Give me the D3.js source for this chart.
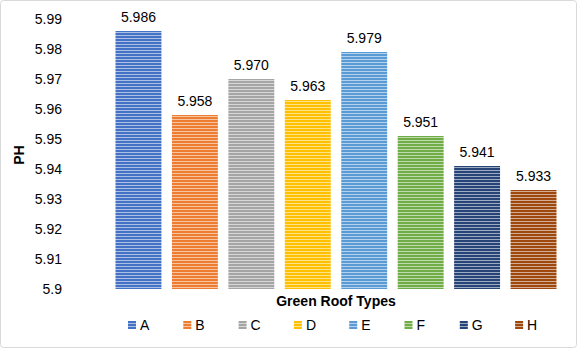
<!DOCTYPE html>
<html>
<head>
<meta charset="utf-8">
<script src="https://cdn.jsdelivr.net/npm/d3@7"></script>
<style>
  body { margin: 0; background: #fff; }
  text { font-family: "Liberation Sans", Arial, sans-serif; fill: #000; }
</style>
</head>
<body>
<script>
// chart data
const categories = ['A', 'B', 'C', 'D', 'E', 'F', 'G', 'H'];
const phValues = [5.986, 5.958, 5.970, 5.963, 5.979, 5.951, 5.941, 5.933];
const tickValues = [5.9, 5.91, 5.92, 5.93, 5.94, 5.95, 5.96, 5.97, 5.98, 5.99];
const tickLabels = ['5.9', '5.91', '5.92', '5.93', '5.94', '5.95', '5.96', '5.97', '5.98', '5.99'];
const colors = ['#4472C4', '#ED7D31', '#A5A5A5', '#FFC000', '#5B9BD5', '#70AD47', '#264478', '#9E480E'];

const W = 577, H = 348;

const svg = d3.select('body').append('svg')
  .attr('width', W)
  .attr('height', H);

// outer frame
svg.append('rect')
  .attr('x', 0.5).attr('y', 0.5)
  .attr('width', W - 1).attr('height', H - 1)
  .attr('rx', 3)
  .attr('fill', '#fff')
  .attr('stroke', '#d9d9d9');

// striped fills, one per series colour
const defs = svg.append('defs');
colors.forEach((c, i) => {
  const p = defs.append('pattern')
    .attr('id', 'stripe' + i)
    .attr('patternUnits', 'userSpaceOnUse')
    .attr('width', 8).attr('height', 3);
  p.append('rect').attr('width', 8).attr('height', 3).attr('fill', c);
  p.append('rect').attr('y', 2).attr('width', 8).attr('height', 1)
    .attr('fill', d3.interpolateRgb(c, '#fff')(0.55));
});

const x = d3.scaleBand()
  .domain(categories)
  .range([105, 567])
  .padding(0.186);

const y = d3.scaleLinear()
  .domain([5.9, 5.99])
  .range([289, 19]);

// y axis labels
const yAxis = d3.axisLeft(y)
  .tickValues(tickValues)
  .tickFormat((d, i) => tickLabels[i])
  .tickSize(0)
  .tickPadding(0);

svg.append('g')
  .attr('transform', 'translate(62,0)')
  .call(yAxis)
  .call(g => g.select('.domain').remove())
  .call(g => g.selectAll('text')
    .attr('font-size', 14)
    .style('font-family', '"Liberation Sans", Arial, sans-serif')
    .attr('fill', '#000'));

// bars
svg.selectAll('.bar')
  .data(phValues)
  .enter().append('rect')
  .attr('class', 'bar')
  .attr('x', (d, i) => x(categories[i]))
  .attr('width', x.bandwidth())
  .attr('y', d => y(d))
  .attr('height', d => y(5.9) - y(d))
  .attr('fill', (d, i) => 'url(#stripe' + i + ')');

// value labels
svg.selectAll('.val')
  .data(phValues)
  .enter().append('text')
  .attr('class', 'val')
  .attr('x', (d, i) => x(categories[i]) + x.bandwidth() / 2)
  .attr('y', d => y(d) - 9)
  .attr('text-anchor', 'middle')
  .attr('font-size', 14)
  .text(d => d.toFixed(3));

// axis titles
svg.append('text')
  .attr('transform', 'translate(24,155) rotate(-90)')
  .attr('text-anchor', 'middle')
  .attr('font-size', 14)
  .attr('font-weight', 'bold')
  .text('PH');

svg.append('text')
  .attr('x', 336)
  .attr('y', 306)
  .attr('text-anchor', 'middle')
  .attr('font-size', 14)
  .attr('font-weight', 'bold')
  .text('Green Roof Types');

// legend
const legend = svg.selectAll('.leg')
  .data(categories)
  .enter().append('g')
  .attr('class', 'leg')
  .attr('transform', (d, i) => `translate(${128 + i * 55.3},321)`);

legend.append('rect')
  .attr('width', 8).attr('height', 8)
  .attr('fill', (d, i) => 'url(#stripe' + i + ')');

legend.append('text')
  .attr('x', 12)
  .attr('y', 9)
  .attr('font-size', 14)
  .text(d => d);
</script>
</body>
</html>
